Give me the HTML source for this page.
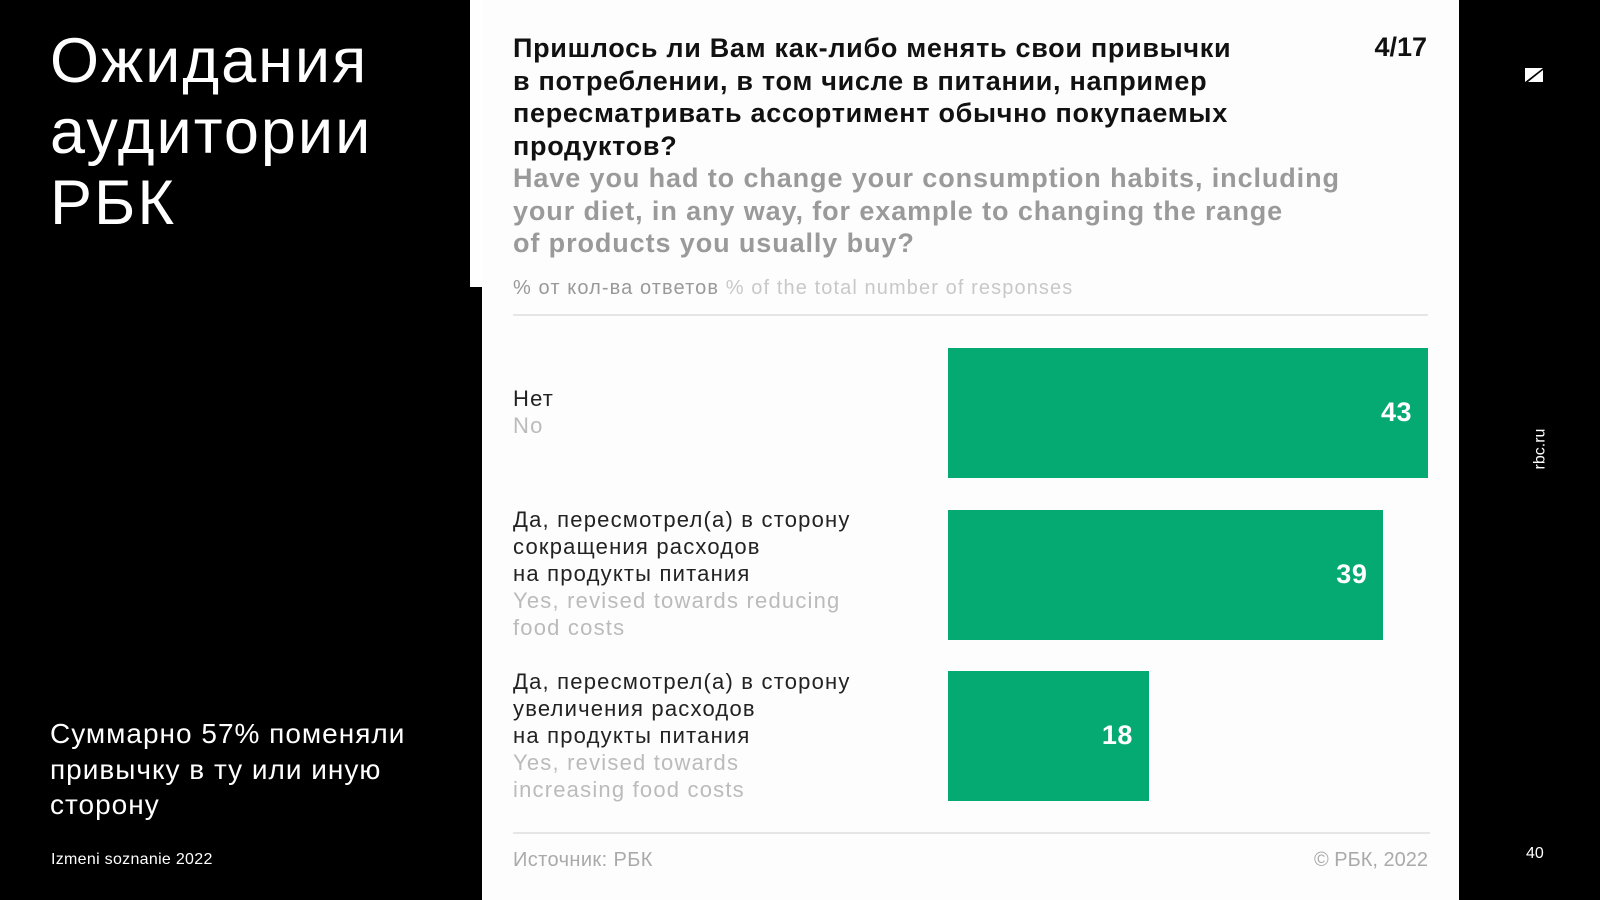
<!DOCTYPE html>
<html><head><meta charset="utf-8"><style>
*{margin:0;padding:0;box-sizing:border-box}
body{width:1600px;height:900px;background:#000;position:relative;overflow:hidden;font-family:"Liberation Sans","DejaVu Sans",sans-serif}
.abs{position:absolute;white-space:nowrap}
</style></head><body>
<div class="abs" style="left:50px;top:26px;color:#fff;font-size:63px;line-height:71px;letter-spacing:2px">Ожидания<br>аудитории<br>РБК</div>
<div class="abs" style="left:50px;top:716px;color:#fff;font-size:28px;line-height:35.5px;letter-spacing:1px">Суммарно 57% поменяли<br>привычку в ту или иную<br>сторону</div>
<div class="abs" style="left:51px;top:851px;color:#fff;font-size:16px;letter-spacing:0.3px">Izmeni soznanie 2022</div>
<div class="abs" style="left:470px;top:0;width:14px;height:287px;background:#fff"></div>
<div class="abs" style="left:482px;top:0;width:977px;height:900px;background:#fdfdfd"></div>
<div class="abs" style="left:513px;top:32px;font-size:27px;line-height:32.7px;font-weight:bold;color:#111;letter-spacing:0.7px">Пришлось ли Вам как-либо менять свои привычки<br>в потреблении, в том числе в питании, например<br>пересматривать ассортимент обычно покупаемых<br>продуктов?</div>
<div class="abs" style="right:173px;top:32px;font-size:27px;font-weight:bold;color:#111">4/17</div>
<div class="abs" style="left:513px;top:162px;font-size:27px;line-height:32.7px;font-weight:bold;color:#9a9a9a;letter-spacing:0.9px">Have you had to change your consumption habits, including<br>your diet, in any way, for example to changing the range<br>of products you usually buy?</div>
<div class="abs" style="left:513px;top:277px;font-size:20px;color:#999;letter-spacing:1.1px">% от кол-ва ответов <span style="color:#c8c8c8">% of the total number of responses</span></div>
<div class="abs" style="left:513px;top:314px;width:915px;height:2px;background:#e6e6e6"></div>
<div id="chart"></div>
<div class="abs" style="left:513px;top:832px;width:917px;height:2px;background:#e6e6e6"></div>
<div class="abs" style="left:513px;top:849px;font-size:20px;color:#aaa;letter-spacing:0.4px">Источник: РБК</div>
<div class="abs" style="right:172px;top:849px;font-size:20px;color:#aaa">© РБК, 2022</div>
<svg class="abs" style="left:1525px;top:68px" width="18" height="14"><polygon points="0,0 18,0 0,14" fill="#fff"/><polygon points="18,2 18,14 3,14" fill="#fff"/></svg>
<div class="abs" style="left:1520px;top:440px;color:#fff;font-size:16px;transform:rotate(-90deg)">rbc.ru</div>
<div class="abs" style="left:1526px;top:845px;color:#fff;font-size:16px">40</div>
<script>
const categoriesRu=["Нет","Да, пересмотрел(а) в сторону<br>сокращения расходов<br>на продукты питания","Да, пересмотрел(а) в сторону<br>увеличения расходов<br>на продукты питания"];
const categoriesEn=["No","Yes, revised towards reducing<br>food costs","Yes, revised towards<br>increasing food costs"];
const values=[43,39,18];
const x0=948,unit=(1428-948)/43,yTop=348,step=161.5,bh=130;
const xScale=v=>v*unit;
const c=document.getElementById('chart');
values.forEach((v,i)=>{
  const y=yTop+i*step;
  const b=document.createElement('div');
  
  
  b.className='abs';
  b.style.cssText=`left:${x0}px;top:${y}px;width:${xScale(v)}px;height:${bh}px;background:#05aa72`;
  const t=document.createElement('div');
  
  
  t.className='abs';
  t.textContent=v;
  t.style.cssText=`right:16px;top:${bh/2-16}px;color:#fff;font-size:27px;font-weight:bold;letter-spacing:0.5px`;
  b.appendChild(t);c.appendChild(b);
  const lines=categoriesRu[i].split('<br>').length+categoriesEn[i].split('<br>').length;
  const l=document.createElement('div');
  
  
  l.className='abs';
  l.innerHTML=categoriesRu[i]+'<br><span style="color:#bbb">'+categoriesEn[i]+'</span>';
  l.style.cssText=`left:513px;top:${y+bh/2-lines*27/2-1}px;font-size:22px;line-height:27px;color:#222;letter-spacing:1.2px`;
  c.appendChild(l);
});
</script>
</body></html>
